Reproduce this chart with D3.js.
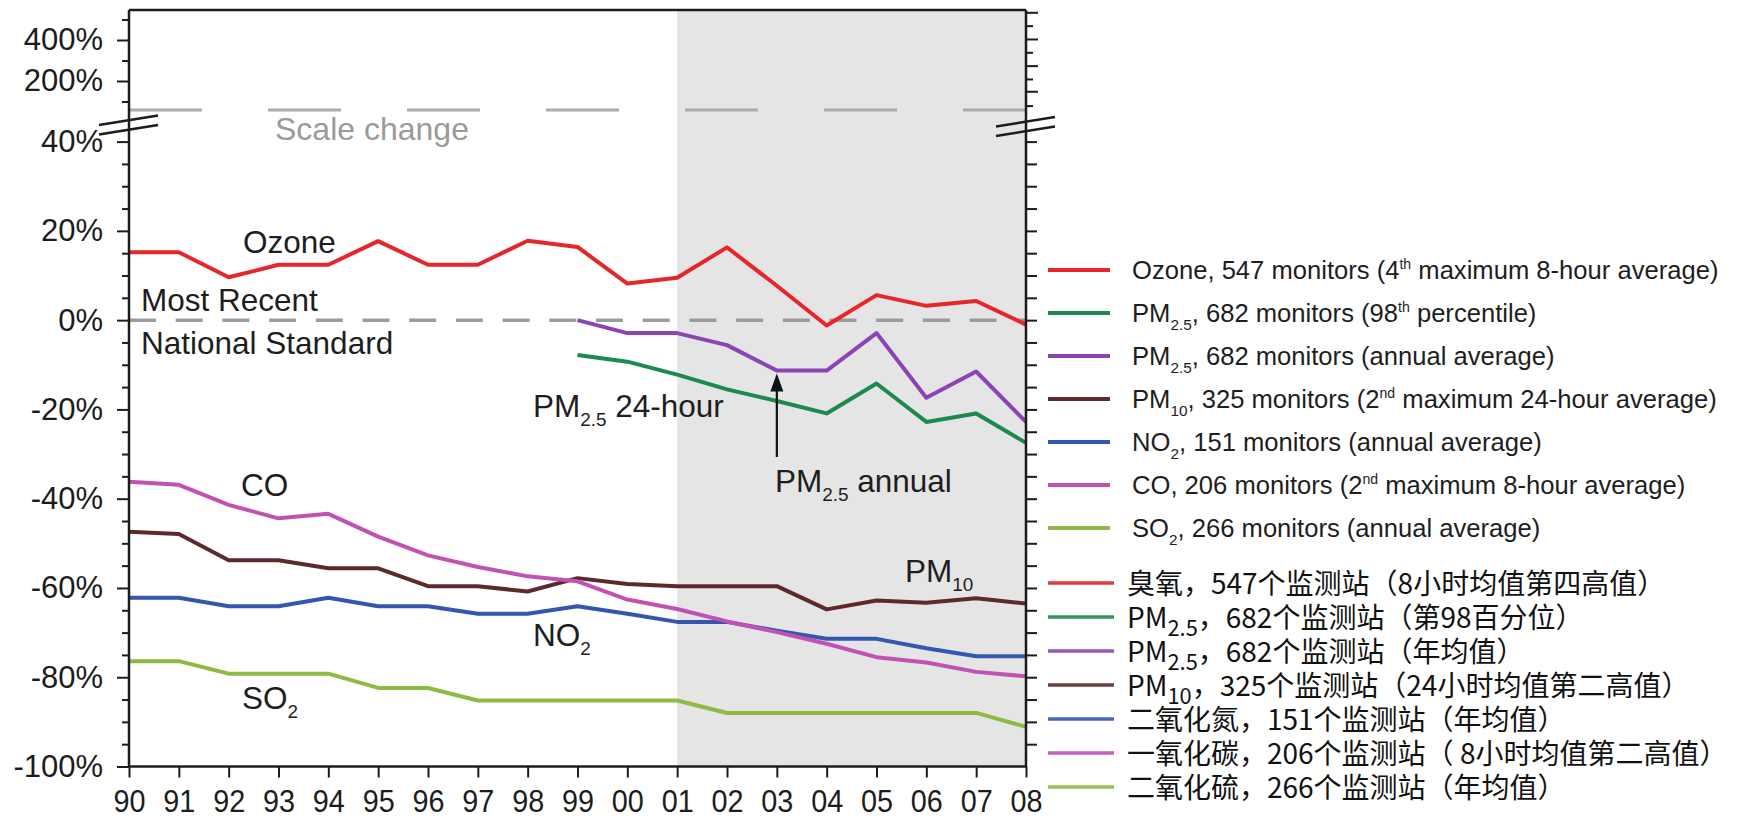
<!DOCTYPE html>
<html><head><meta charset="utf-8">
<script src="https://cdn.jsdelivr.net/npm/d3@7"></script>
<style>
body{margin:0;background:#fff;}
svg{display:block;}
text{font-family:"Liberation Sans",Arial,Helvetica,sans-serif;}
</style></head><body>
<svg id="chart" width="1742" height="819"></svg>
<script>
// ---------- data ----------
const years = ["90","91","92","93","94","95","96","97","98","99","00","01","02","03","04","05","06","07","08"];
const ozone      = [15.2,15.2,9.6,12.4,12.4,17.7,12.4,12.4,17.8,16.4,8.2,9.5,16.3,7.7,-1.2,5.6,3.2,4.3,-1.0];
const pm25Daily  = [null,null,null,null,null,null,null,null,null,-7.8,-9.3,-12.2,-15.5,-18.1,-20.9,-14.2,-22.8,-20.9,-27.5];
const pm25Annual = [null,null,null,null,null,null,null,null,null,0,-2.9,-2.9,-5.6,-11.3,-11.3,-2.9,-17.4,-11.5,-22.8];
const pm10       = [-47.4,-47.9,-53.8,-53.8,-55.6,-55.6,-59.6,-59.6,-60.8,-57.8,-59.1,-59.6,-59.6,-59.6,-64.8,-62.8,-63.3,-62.3,-63.5];
const no2        = [-62.2,-62.2,-64.1,-64.1,-62.2,-64.1,-64.1,-65.8,-65.8,-64.1,-65.8,-67.6,-67.6,-69.6,-71.4,-71.4,-73.5,-75.3,-75.3];
const co         = [-36.2,-36.9,-41.4,-44.4,-43.4,-48.5,-52.7,-55.3,-57.4,-58.5,-62.6,-64.7,-67.5,-69.9,-72.5,-75.5,-76.7,-78.8,-79.8];
const so2        = [-76.4,-76.4,-79.2,-79.2,-79.2,-82.4,-82.4,-85.2,-85.2,-85.2,-85.2,-85.2,-88.0,-88.0,-88.0,-88.0,-88.0,-88.0,-91.1];

const lowerTickLabels = [40,20,0,-20,-40,-60,-80,-100];
const upperTickLabels = [400,200];
const shadeFrom = "01", shadeTo = "08";

const seriesNames = ["ozone","pm25Daily","pm25Annual","pm10","no2","co","so2"];
const legendEn = [
  "Ozone, 547 monitors (4^{th} maximum 8-hour average)",
  "PM_{2.5}, 682 monitors (98^{th} percentile)",
  "PM_{2.5}, 682 monitors (annual average)",
  "PM_{10}, 325 monitors (2^{nd} maximum 24-hour average)",
  "NO_{2}, 151 monitors (annual average)",
  "CO, 206 monitors (2^{nd} maximum 8-hour average)",
  "SO_{2}, 266 monitors (annual average)"
];
const legendZh = [
  "臭氧，547个监测站（8小时均值第四高值）",
  "PM_{2.5}，682个监测站（第98百分位）",
  "PM_{2.5}，682个监测站（年均值）",
  "PM_{10}，325个监测站（24小时均值第二高值）",
  "二氧化氮，151个监测站（年均值）",
  "一氧化碳，206个监测站（ 8小时均值第二高值）",
  "二氧化硫，266个监测站（年均值）"
];

// ---------- styles ----------
const colors = {
  ozone:"#e5262b", pm25Daily:"#1b8a4c", pm25Annual:"#8b44b6", pm10:"#5c2a2c",
  no2:"#3556b0", co:"#c152b3", so2:"#8cba43"
};
const dataMap = {ozone, pm25Daily, pm25Annual, pm10, no2, co, so2};

const svg = d3.select("#chart");
const L = 129, R = 1026, T = 10, B = 766.5;
const x = d3.scaleLinear().domain([0, years.length-1]).range([L, R]);
const y = d3.scaleLinear().domain([-100, 40]).range([B, 141.6]);
const yUp = d3.scaleLinear().domain([200, 400]).range([81, 40]);
const ink = "#1c1c1c";

// rich text helper: ^{sup} and _{sub}
function rich(textSel, str, fs, opts={}) {
  const parts = str.split(/(\^\{[^}]*\}|_\{[^}]*\})/).filter(s => s.length);
  let shift = 0;
  parts.forEach(p => {
    const t = textSel.append("tspan");
    if (p.startsWith("^{")) {
      const s = -fs*0.38;
      t.text(p.slice(2,-1)).attr("font-size", fs*0.55).attr("dy", s - shift);
      shift = s;
    } else if (p.startsWith("_{")) {
      const s = fs*(opts.subShift || 0.3);
      t.text(p.slice(2,-1)).attr("font-size", fs*(opts.subScale || 0.6)).attr("dy", s - shift);
      shift = s;
    } else {
      t.text(p).attr("dy", -shift);
      shift = 0;
    }
  });
  return textSel;
}

// ---------- shaded period ----------
const i0 = years.indexOf(shadeFrom), i1 = years.indexOf(shadeTo);
svg.append("rect").attr("x", x(i0)).attr("y", T).attr("width", x(i1)-x(i0)).attr("height", B-T)
  .attr("fill", "#e5e5e5");

// ---------- scale change dashed line ----------
svg.append("line").attr("x1", L).attr("x2", R).attr("y1", 110).attr("y2", 110)
  .attr("stroke", "#ababab").attr("stroke-width", 3).attr("stroke-dasharray", "73,66");
svg.append("text").attr("x", 275).attr("y", 139.5).attr("font-size", 32).attr("fill", "#9a9a9a").text("Scale change");

// ---------- 0% standard line ----------
svg.append("line").attr("x1", L).attr("x2", R).attr("y1", y(0)).attr("y2", y(0))
  .attr("stroke", "#9c9c9c").attr("stroke-width", 3.5).attr("stroke-dasharray", "27,19.7");

// ---------- data lines ----------
const line = d3.line().defined(d => d != null).x((d,i) => x(i)).y(d => y(d));
seriesNames.forEach(n => {
  svg.append("path").datum(dataMap[n]).attr("d", line)
    .attr("fill", "none").attr("stroke", colors[n]).attr("stroke-width", 4)
    .attr("stroke-linejoin", "round");
});

// ---------- axes frame ----------
svg.append("line").attr("x1", L).attr("x2", R).attr("y1", T).attr("y2", T).attr("stroke", ink).attr("stroke-width", 2.5);
svg.append("line").attr("x1", L).attr("x2", L).attr("y1", T).attr("y2", B).attr("stroke", ink).attr("stroke-width", 2.5);
svg.append("line").attr("x1", R).attr("x2", R).attr("y1", T).attr("y2", B).attr("stroke", ink).attr("stroke-width", 2.5);
svg.append("line").attr("x1", L-1).attr("x2", R+1).attr("y1", B).attr("y2", B).attr("stroke", ink).attr("stroke-width", 2.5);

// left axis lower: major labelled ticks
const axL = d3.axisLeft(y).tickValues(lowerTickLabels).tickSize(12).tickPadding(14).tickFormat(d => d + "%");
const gL = svg.append("g").attr("transform", `translate(${L},0)`).call(axL);
gL.select(".domain").remove();
gL.selectAll("line").attr("stroke", ink).attr("stroke-width", 2);
gL.selectAll("text").attr("font-size", 31).attr("fill", ink).attr("font-family", '"Liberation Sans",Arial,sans-serif');
// left minor ticks
const minorVals = d3.range(-95, 40, 5).filter(v => v % 20 !== 0);
const axLm = d3.axisLeft(y).tickValues(minorVals).tickSize(7).tickFormat("");
const gLm = svg.append("g").attr("transform", `translate(${L},0)`).call(axLm);
gLm.select(".domain").remove();
gLm.selectAll("line").attr("stroke", ink).attr("stroke-width", 2);

// left upper
const axLu = d3.axisLeft(yUp).tickValues(upperTickLabels).tickSize(12).tickPadding(14).tickFormat(d => d + "%");
const gLu = svg.append("g").attr("transform", `translate(${L},0)`).call(axLu);
gLu.select(".domain").remove();
gLu.selectAll("line").attr("stroke", ink).attr("stroke-width", 2);
gLu.selectAll("text").attr("font-size", 31).attr("fill", ink).attr("font-family", '"Liberation Sans",Arial,sans-serif');
const axLum = d3.axisLeft(yUp).tickValues([100, 300, 500]).tickSize(7).tickFormat("");
const gLum = svg.append("g").attr("transform", `translate(${L},0)`).call(axLum);
gLum.select(".domain").remove();
gLum.selectAll("line").attr("stroke", ink).attr("stroke-width", 2);

// right axis ticks
const axR = d3.axisRight(y).tickValues(d3.range(-95, 41, 5)).tickSize(11).tickFormat("");
const gR = svg.append("g").attr("transform", `translate(${R},0)`).call(axR);
gR.select(".domain").remove();
gR.selectAll("line").attr("stroke", ink).attr("stroke-width", 2);
const upRightVals = [535, 470, 405, 340, 275, 210, 150, 80];
const axRu = d3.axisRight(yUp).tickValues(upRightVals).tickSize(11).tickFormat("");
const gRu = svg.append("g").attr("transform", `translate(${R},0)`).call(axRu);
gRu.select(".domain").remove();
gRu.selectAll("line").attr("stroke", ink).attr("stroke-width", 2)
  .attr("x2", (d,i) => i % 2 ? 7 : 12);

// bottom axis
const axB = d3.axisBottom(x).tickValues(d3.range(years.length)).tickSize(11).tickPadding(8)
  .tickFormat(i => years[i]);
const gB = svg.append("g").attr("transform", `translate(0,${B})`).call(axB);
gB.select(".domain").remove();
gB.selectAll("line").attr("stroke", ink).attr("stroke-width", 2);
gB.selectAll("text").attr("font-size", 32).attr("fill", ink).attr("dy", null).attr("y", 46)
  .attr("font-family", '"Liberation Sans",Arial,sans-serif')
  .attr("transform", "scale(0.9,1)");

// axis breaks
function breakMarks(cx, cy) {
  [0, 9.5].forEach(o => {
    svg.append("line").attr("x1", cx-30).attr("y1", cy+5+o).attr("x2", cx+29).attr("y2", cy-4.5+o)
      .attr("stroke", ink).attr("stroke-width", 2.5);
  });
}
breakMarks(L, 120);
breakMarks(R, 121.5);

// ---------- in-chart annotations ----------
const lab = (xx, yy, str, fs=31.5, fill="#1e1e1e") =>
  rich(svg.append("text").attr("x", xx).attr("y", yy).attr("font-size", fs).attr("fill", fill), str, fs);
lab(243, 252.5, "Ozone");
lab(141, 311, "Most Recent");
lab(141, 354, "National Standard");
lab(533, 417, "PM_{2.5} 24-hour");
lab(775, 492, "PM_{2.5} annual");
lab(241, 496, "CO");
lab(905, 582, "PM_{10}");
lab(533, 646, "NO_{2}");
lab(242, 709, "SO_{2}");

// arrow to PM2.5 annual
const ax = x(years.indexOf("03"));
const tipY = y(pm25Annual[years.indexOf("03")]) + 3;
svg.append("line").attr("x1", ax).attr("x2", ax).attr("y1", 457).attr("y2", tipY + 14)
  .attr("stroke", "#111").attr("stroke-width", 2.2);
svg.append("path").attr("d", `M${ax},${tipY} L${ax-6.5},${tipY+18} L${ax+6.5},${tipY+18} Z`).attr("fill", "#111");

// ---------- legends ----------
const enFs = 25.6;
legendEn.forEach((s, i) => {
  const cy = 270 + i*43;
  svg.append("line").attr("x1", 1048).attr("x2", 1110).attr("y1", cy).attr("y2", cy)
    .attr("stroke", colors[seriesNames[i]]).attr("stroke-width", 4);
  rich(svg.append("text").attr("x", 1132).attr("y", cy + 9).attr("font-size", enFs).attr("fill", "#1e1e1e"), s, enFs);
});
const zhFs = 28;
legendZh.forEach((s, i) => {
  const cy = 583 + i*34;
  svg.append("line").attr("x1", 1048).attr("x2", 1114).attr("y1", cy).attr("y2", cy)
    .attr("stroke", colors[seriesNames[i]]).attr("stroke-width", 3.5).attr("opacity", 0.9);
  const t = svg.append("text").attr("x", 1127).attr("y", cy + 10.5).attr("font-size", zhFs).attr("fill", "#111")
    .style("font-family", '"Noto Sans CJK SC","Noto Sans",sans-serif');
  rich(t, s, zhFs, {subScale: 0.78, subShift: 0.3});
});
</script>
</body></html>
